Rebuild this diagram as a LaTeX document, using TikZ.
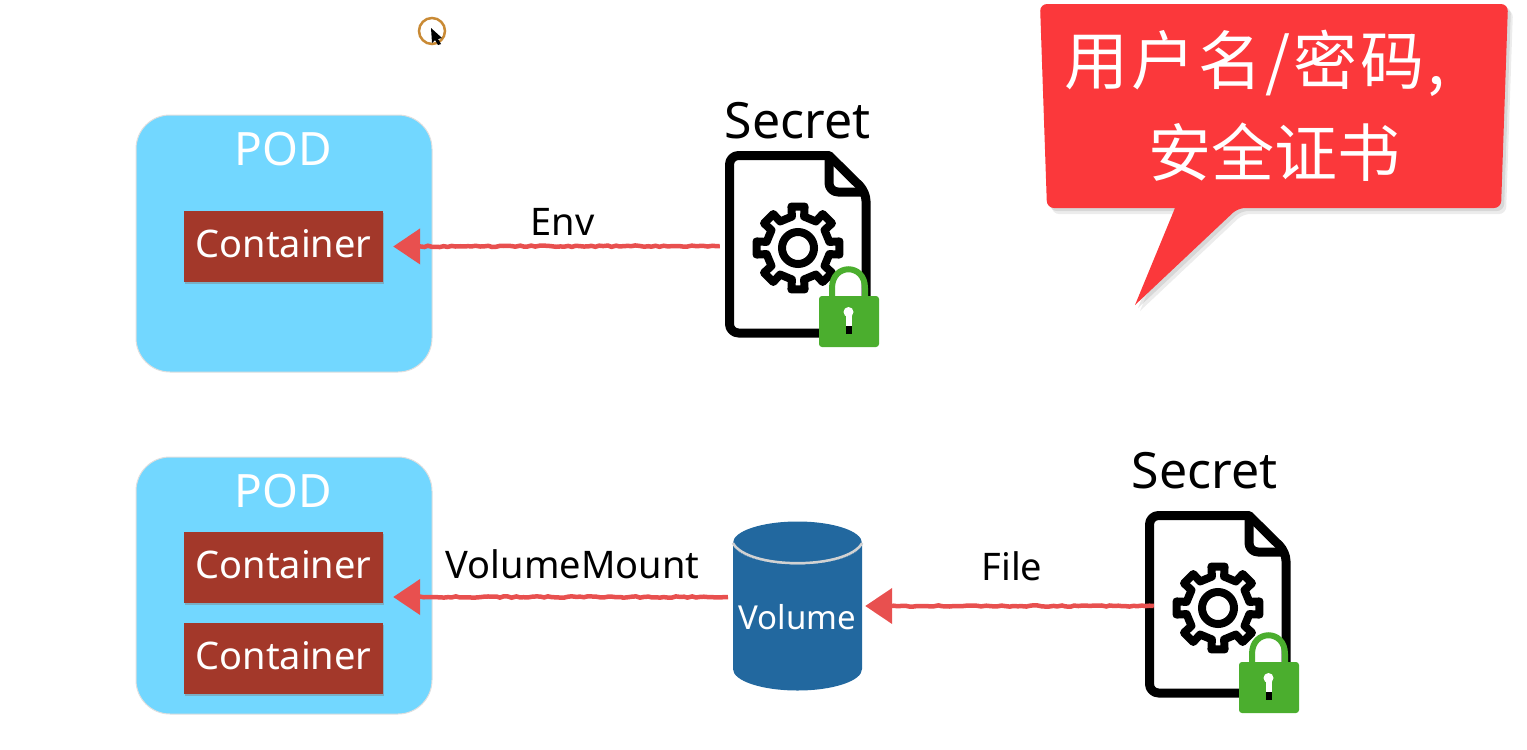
\documentclass[tikz,border=0pt]{standalone}
\usepackage{fontspec}
\setmainfont{Noto Sans}
\newfontfamily\cjk{Noto Sans CJK SC}
\usetikzlibrary{arrows.meta,positioning,shadows,shapes.geometric,decorations.pathmorphing}

\definecolor{podblue}{HTML}{72D7FF}
\definecolor{boxbrown}{HTML}{A3382A}
\definecolor{drumblue}{HTML}{22689F}
\definecolor{wirered}{HTML}{E8504F}
\definecolor{lockgreen}{HTML}{4BAE2E}
\definecolor{bubblered}{HTML}{FB383B}
\definecolor{ringorange}{HTML}{C98A35}

\newcommand{\lockdrop}{0}

\tikzset{
  secreticon/.pic={
    \draw[line width=9pt,line join=round,rounded corners=9pt,fill=white]
      (31.5,-90.5) -- (-68,-90.5) -- (-68,87) -- (68.5,87) -- (68.5,-54) [sharp corners] -- cycle;
    \draw[line width=9pt,line join=round,rounded corners=9pt]
      (31.5,-90.5) -- (31.5,-54) -- (68.5,-54);
    \draw[shift={(0.5,2)},line width=8pt,line join=round]
      (-11:32) \foreach \a in {0,45,...,315} {
        -- ({\a-11}:32) -- ({\a-9}:42) -- ({\a+9}:42) -- ({\a+11}:32) -- ({\a+34}:32)
      } -- cycle;
    \draw[line width=8pt] (0.5,2) circle (16);
    \begin{scope}[yshift=-\lockdrop pt]
    \draw[line width=6pt,lockgreen] (34.5,52) -- (34.5,42) .. controls (34.5,17) and (67.5,17) .. (67.5,42) -- (67.5,52);
    \fill[lockgreen,rounded corners=3pt] (21.5,50) rectangle (81.5,101);
    \fill[white] (51,66) circle (5);
    \fill[white] (48,67) -- (54,67) -- (54,80) -- (48,80) -- cycle;
    \fill[black] (48,80) -- (54,80) -- (54,88) -- (48,88) -- cycle;
    \end{scope}
  }
}

\begin{document}
\begin{tikzpicture}[x=1pt,y=-1pt,>={Triangle[length=27pt,width=35pt]},
  podbox/.style={fill=podblue,draw=gray!25,line width=1pt,rounded corners=34pt,minimum width=296pt,minimum height=257pt,inner sep=0pt},
  podlabel/.style={white,font=\fontsize{46}{52}\selectfont},
  containerbox/.style={fill=boxbrown,text=white,minimum width=199pt,minimum height=71pt,inner sep=0pt,text depth=6pt,
    font=\fontsize{38}{42}\selectfont,drop shadow={shadow xshift=1pt,shadow yshift=-2pt,opacity=.45}},
  secretlabel/.style={font=\fontsize{50}{56}\selectfont,inner sep=0pt},
  secretbox/.style={minimum width=145pt,minimum height=186pt,inner sep=0pt},
  wire/.style={->,wirered,line width=4.5pt,decorate,decoration={random steps,segment length=4pt,amplitude=.7pt,post length=24pt}},
  wirelabel/.style={text=black,font=\fontsize{38}{42}\selectfont,inner sep=0pt}]

\useasboundingbox (0,0) rectangle (1527,750);

% cursor
\node[circle,draw=ringorange,line width=2.5pt,minimum size=26pt,inner sep=0pt] (cursorRing) at (432,31) {};
\fill[black] (431,28) -- (442,38) -- (438,39) -- (441,44) -- (438,45) -- (435,40) -- (432,43) -- cycle;

% upper pod
\node[podbox] (podA) at (284,243.5) {};
\node[podlabel] (podLabelA) at (283,149) {POD};
\node[containerbox] (contA) at (283.5,246.5) {Container};

\node[secretbox] (secretA) at (797.5,246) {};
\pic at (secretA) {secreticon};
\node[secretlabel,above=14pt of secretA] (secretLabelA) {Secret};

\draw[wire,shorten >=10pt] ([xshift=-5pt]secretA.west) -- node[wirelabel,above=9pt,xshift=11pt] {Env} (contA.east);

% lower pod
\node[podbox] (podB) at (284,585.5) {};
\node[podlabel] (podLabelB) at (283,491) {POD};
\node[containerbox] (contB) at (283.5,567.5) {Container};
\node[containerbox,below=20pt of contB] (contC) {Container};

\node[cylinder,anchor=shape center,shape border rotate=90,aspect=.365,cylinder uses custom fill,
  cylinder body fill=drumblue,cylinder end fill=drumblue,minimum width=129pt,minimum height=169pt,
  inner sep=0pt,text=white,font=\fontsize{33}{36}\selectfont] (vol) at (797.5,606) {Volume};
\draw[gray!35,line width=2.5pt] (vol.before top) .. controls +(15,27) and +(-15,27) .. (vol.after top);

\node[secretbox] (secretB) at (1217.5,606) {};
\renewcommand{\lockdrop}{6}
\pic at (secretB) {secreticon};
\node[secretlabel,above=24pt of secretB,xshift=-13pt] (secretLabelB) {Secret};

\coordinate (mountTip) at (contB.east |- 0,597);
\coordinate (mountTail) at (728,597);
\coordinate (fileTip) at (vol.east |- secretB);
\draw[wire,shorten >=10pt] (mountTail) -- node[wirelabel,above=16pt,xshift=17pt] {VolumeMount} (mountTip);
\draw[wire,shorten >=3pt] ([xshift=9pt]secretB.west) -- node[wirelabel,above=23pt,xshift=4pt] {File} (fileTip);

% callout
\fill[bubblered,rounded corners=7pt,drop shadow={shadow xshift=3pt,shadow yshift=-3pt,opacity=.2},drop shadow={shadow xshift=5pt,shadow yshift=-6pt,opacity=.15}]
  (1040,4) -- (1508,4) -- (1501,208) -- (1238,208) [sharp corners] -- (1135,305) -- (1175,208) [rounded corners=7pt] -- (1047,208) -- cycle;
\node[white,font=\cjk\fontsize{64}{70}\selectfont,inner sep=0pt] (bubbleTop) at (1255,63) {用\hspace{3pt}户\hspace{3pt}名\hspace{3pt}/\hspace{3pt}密\hspace{3pt}码\hspace{3pt},};
\node[white,font=\cjk\fontsize{63}{70}\selectfont,inner sep=0pt] (bubbleBottom) at (1274,152) {安全证书};
\end{tikzpicture}
\end{document}
